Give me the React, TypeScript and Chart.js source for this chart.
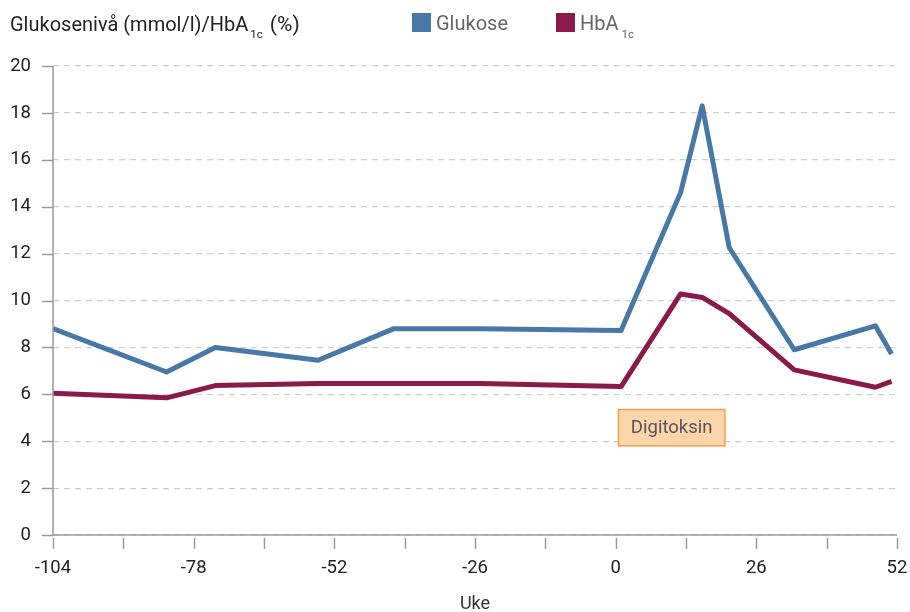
import React, { useEffect, useRef } from "react";
import { Chart, registerables } from "chart.js";

Chart.register(...registerables);

const weeks = [-104, -83, -74, -55, -41, -25, 1, 12, 16, 21, 33, 48, 51];
const glukose = [8.8, 6.95, 8.0, 7.45, 8.8, 8.8, 8.72, 14.6, 18.3, 12.25, 7.9, 8.92, 7.72];
const hba1c = [6.05, 5.85, 6.37, 6.46, 6.46, 6.46, 6.33, 10.28, 10.13, 9.44, 7.04, 6.3, 6.55];
const xTickLabels = [-104, -78, -52, -26, 0, 26, 52];
const annotationText = "Digitoksin";
const annotationX = [0.5, 20.2];
const annotationY = [3.8, 5.35];

const FONT = "Roboto, 'DejaVu Sans', sans-serif";
const BLUE = "#4778a6";
const MAROON = "#891a4a";
const AXIS = "#9a9a9a";

const overlayPlugin = {
  id: "overlay",
  afterDraw(chart: any) {
    const ctx = chart.ctx;
    const xs = chart.scales.x;
    const ys = chart.scales.y;
    ctx.save();
    ctx.setLineDash([]);
    // axis lines
    ctx.strokeStyle = AXIS;
    ctx.lineWidth = 1.5;
    ctx.beginPath();
    ctx.moveTo(xs.left, ys.top);
    ctx.lineTo(xs.left, ys.bottom);
    ctx.lineTo(xs.right, ys.bottom);
    ctx.stroke();
    // x tick marks
    xs.ticks.forEach((t: any) => {
      const px = Math.round(xs.getPixelForValue(t.value)) + 0.5;
      ctx.beginPath();
      ctx.moveTo(px, ys.bottom + 3);
      ctx.lineTo(px, ys.bottom + 14);
      ctx.stroke();
    });
    // y tick marks
    ys.ticks.forEach((t: any) => {
      const py = Math.round(ys.getPixelForValue(t.value)) + 0.5;
      ctx.beginPath();
      ctx.moveTo(xs.left - 11, py);
      ctx.lineTo(xs.left, py);
      ctx.stroke();
    });
    // annotation box
    const x0 = xs.getPixelForValue(annotationX[0]);
    const x1 = xs.getPixelForValue(annotationX[1]);
    const y0 = ys.getPixelForValue(annotationY[1]);
    const y1 = ys.getPixelForValue(annotationY[0]);
    ctx.fillStyle = "#fdd5aa";
    ctx.fillRect(x0, y0, x1 - x0, y1 - y0);
    ctx.strokeStyle = "#f5a04c";
    ctx.lineWidth = 1.5;
    ctx.strokeRect(x0, y0, x1 - x0, y1 - y0);
    ctx.fillStyle = "#555";
    ctx.font = `18.5px ${FONT}`;
    ctx.textAlign = "center";
    ctx.textBaseline = "middle";
    ctx.fillText(annotationText, (x0 + x1) / 2, (y0 + y1) / 2 + 1);

    // x title
    ctx.fillStyle = "#333";
    ctx.font = `18px ${FONT}`;
    ctx.textAlign = "center";
    ctx.textBaseline = "alphabetic";
    ctx.fillText("Uke", (xs.left + xs.right) / 2, 609);

    // y title (top-left)
    ctx.textAlign = "left";
    ctx.fillStyle = "#222";
    ctx.font = `20px ${FONT}`;
    let x = 10;
    const base = 31;
    const t1 = "Glukosenivå (mmol/l)/HbA";
    ctx.fillText(t1, x, base);
    x += ctx.measureText(t1).width + 2;
    ctx.font = `11.5px ${FONT}`;
    ctx.fillText("1c", x, base + 7);
    x += ctx.measureText("1c").width + 7;
    ctx.font = `21px ${FONT}`;
    ctx.fillText("(%)", x, base);

    // legend
    ctx.fillStyle = BLUE;
    ctx.fillRect(412, 13, 19, 19);
    ctx.fillStyle = "#666";
    ctx.font = `20px ${FONT}`;
    ctx.fillText("Glukose", 436, 30);
    ctx.fillStyle = MAROON;
    ctx.fillRect(556, 13, 19, 19);
    ctx.fillStyle = "#666";
    ctx.fillText("HbA", 580, 30);
    const w = ctx.measureText("HbA").width;
    ctx.font = `11.5px ${FONT}`;
    ctx.fillText("1c", 580 + w + 3, 37.5);
    ctx.restore();
  },
};

export default function App() {
  const ref = useRef<HTMLCanvasElement | null>(null);
  useEffect(() => {
    document.body.style.margin = "0";
    const canvas = ref.current;
    if (!canvas) return;
    const chart = new Chart(canvas, {
      type: "line",
      data: {
        datasets: [
          {
            label: "Glukose",
            data: weeks.map((w, i) => ({ x: w, y: glukose[i] })),
            borderColor: BLUE,
            backgroundColor: BLUE,
            borderWidth: 5,
            pointRadius: 0,
            tension: 0,
            borderJoinStyle: "round",
          },
          {
            label: "HbA1c",
            data: weeks.map((w, i) => ({ x: w, y: hba1c[i] })),
            borderColor: MAROON,
            backgroundColor: MAROON,
            borderWidth: 5,
            pointRadius: 0,
            tension: 0,
            borderJoinStyle: "round",
          },
        ],
      },
      options: {
        animation: false,
        responsive: false,
        maintainAspectRatio: false,
        layout: { padding: { top: 66, right: 13, left: 0, bottom: 0 } },
        plugins: { legend: { display: false }, tooltip: { enabled: false } },
        scales: {
          x: {
            type: "linear",
            min: -104,
            max: 52,
            afterFit: (s: any) => {
              s.height = 77;
              s.paddingRight = 0;
              s.paddingLeft = 0;
            },
            ticks: {
              stepSize: 13,
              autoSkip: false,
              maxRotation: 0,
              padding: 22,
              color: "#222",
              font: { family: FONT, size: 18.5 },
              callback: (v: any) => (xTickLabels.includes(Number(v)) ? String(v) : ""),
            },
            grid: { display: false, drawTicks: false },
            border: { display: false },
          },
          y: {
            min: 0,
            max: 20,
            afterFit: (s: any) => {
              s.width = 53;
              s.paddingTop = 0;
              s.paddingBottom = 0;
            },
            ticks: {
              stepSize: 2,
              padding: 11,
              color: "#222",
              font: { family: FONT, size: 18.5 },
            },
            grid: {
              color: "#cfcfcf",
              lineWidth: 1.2,
              tickLength: 11,
              drawTicks: true,
              tickColor: "rgba(0,0,0,0)",
            },
            border: { display: false, dash: [6, 5] },
          },
        },
      } as any,
      plugins: [overlayPlugin],
    });
    return () => chart.destroy();
  }, []);
  return (
    <div style={{ width: 910, height: 612, position: "relative" }}>
      <canvas ref={ref} width={910} height={612} style={{ display: "block" }} />
    </div>
  );
}
